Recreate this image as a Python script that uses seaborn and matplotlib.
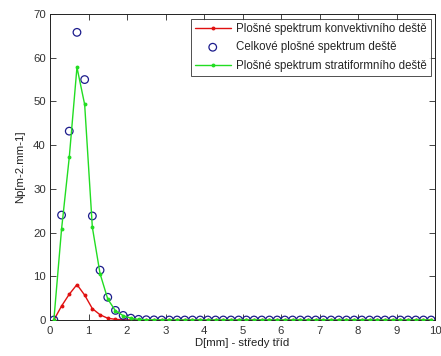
import numpy as np
import pandas as pd
import matplotlib
matplotlib.use("Agg")
import matplotlib.pyplot as plt
import seaborn as sns

# class centres [mm]
D = [round(0.1 + 0.2 * i, 1) for i in range(50)]

konvektivni = [0.0, 3.2, 5.9, 8.1, 5.7, 2.6, 1.2, 0.4, 0.15, 0.05,
               0.02] + [0.0] * 39
stratiformni = [0.0, 20.8, 37.2, 57.8, 49.3, 21.2, 10.6, 4.8, 2.1, 1.0,
                0.4, 0.15, 0.06, 0.03] + [0.0] * 36
celkove = [0.0, 24.0, 43.2, 65.8, 55.0, 23.8, 11.4, 5.2, 2.2, 1.05,
           0.42, 0.15, 0.06, 0.03] + [0.0] * 36

labels = ["Plošné spektrum konvektivního deště",
          "Celkové plošné spektrum deště",
          "Plošné spektrum stratiformního deště"]

df = pd.DataFrame({"D": D, "konv": konvektivni, "strat": stratiformni, "celk": celkove})

sns.set_style("ticks")
plt.rcParams["font.family"] = ["Liberation Sans", "DejaVu Sans"]

fig = plt.figure(figsize=(4.41, 3.56), dpi=100)
ax = fig.add_axes([0.1134, 0.1011, 0.873, 0.8596])

sns.lineplot(data=df, x="D", y="konv", ax=ax, color="#e01010", lw=1.0,
             marker="o", markersize=2.8, markeredgewidth=0, label=labels[0])
sns.scatterplot(data=df, x="D", y="celk", ax=ax, marker="o", s=30,
                facecolor="none", edgecolor="#1c1c8c", linewidth=0.9,
                label=labels[1], zorder=3)
sns.lineplot(data=df, x="D", y="strat", ax=ax, color="#22dd22", lw=1.0,
             marker="o", markersize=2.8, markeredgewidth=0, label=labels[2],
             zorder=4)

ax.set_xlim(0, 10)
ax.set_ylim(0, 70)
ax.set_xticks(range(0, 11))
ax.set_yticks(range(0, 71, 10))
ax.tick_params(direction="in", top=True, right=True, length=4, width=0.6,
               labelsize=8.2, labelcolor="#333333")
ax.tick_params(axis="x", pad=4)
ax.tick_params(axis="y", pad=3)
for s in ax.spines.values():
    s.set_linewidth(0.7)
    s.set_color("#222222")

ax.set_xlabel("D[mm] - středy tříd", fontsize=8.2, color="#222222", labelpad=2)
ax.set_ylabel("Np[m-2.mm-1]", fontsize=8.2, color="#222222", labelpad=6)

leg = ax.legend(loc="upper right", bbox_to_anchor=(0.99, 0.984),
                fontsize=8.3, frameon=True, fancybox=False,
                borderpad=0.35, handlelength=3.1, handletextpad=0.5,
                labelspacing=0.55, borderaxespad=0.0)
leg.get_frame().set_edgecolor("#222222")
leg.get_frame().set_linewidth(0.7)

fig.savefig("out.png", dpi=100, facecolor="white")
